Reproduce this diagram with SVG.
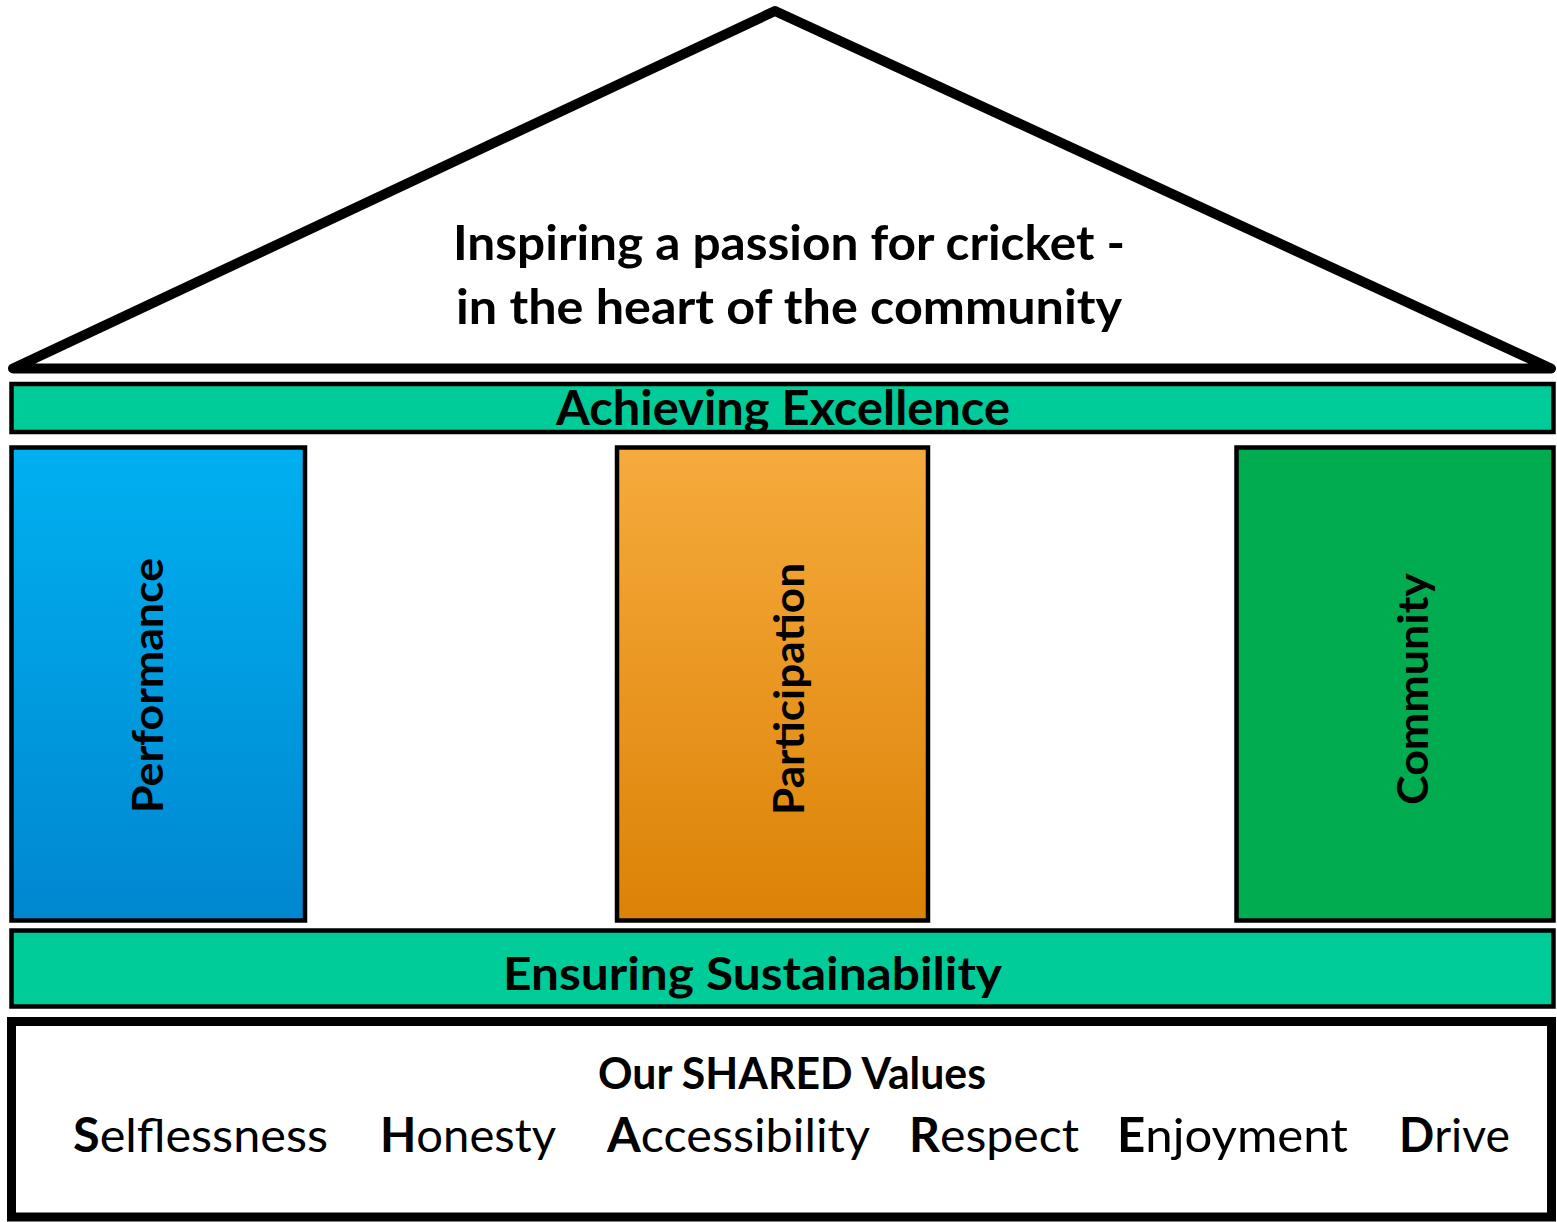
<svg xmlns="http://www.w3.org/2000/svg" width="1557" height="1222" viewBox="0 0 1557 1222">
  <style>
    .t { font-family: Lato, "Open Sans", "Liberation Sans", sans-serif; font-weight: 700; fill: #000; }
    .r { font-weight: 400; }
    .band { fill: #00CC99; stroke: #000; stroke-width: 4.5; }
    .pillar { stroke: #000; stroke-width: 4.5; }
  </style>
  <defs>
    <linearGradient id="gBlue" x1="0" y1="0" x2="0" y2="1">
      <stop offset="0" stop-color="#00B0F0"/>
      <stop offset="1" stop-color="#0087D0"/>
    </linearGradient>
    <linearGradient id="gOrange" x1="0" y1="0" x2="0" y2="1">
      <stop offset="0" stop-color="#F6AB3D"/>
      <stop offset="1" stop-color="#DC8206"/>
    </linearGradient>
  </defs>
  <rect width="1557" height="1222" fill="#fff"/>

  <!-- roof -->
  <g id="roof">
    <polygon points="13,368.5 775,11 1551,368.5" fill="#fff" stroke="#000" stroke-width="10" stroke-linejoin="round"/>
    <text class="t" x="789" y="260" font-size="48" text-anchor="middle" textLength="672" lengthAdjust="spacingAndGlyphs">Inspiring a passion for cricket -</text>
    <text class="t" x="789" y="324" font-size="48" text-anchor="middle" textLength="666" lengthAdjust="spacingAndGlyphs">in the heart of the community</text>
  </g>

  <!-- upper beam -->
  <g id="excellence">
    <rect class="band" x="11.5" y="384" width="1542" height="48"/>
    <text class="t" x="783" y="425" font-size="47" text-anchor="middle" textLength="454" lengthAdjust="spacingAndGlyphs">Achieving Excellence</text>
  </g>

  <!-- pillars -->
  <g id="performance">
    <rect class="pillar" x="11.5" y="447.5" width="293.5" height="473" fill="url(#gBlue)"/>
    <text class="t" transform="translate(163,685.5) rotate(-90)" x="0" y="0" font-size="42" text-anchor="middle" textLength="255" lengthAdjust="spacingAndGlyphs">Performance</text>
  </g>
  <g id="participation">
    <rect class="pillar" x="617" y="447.5" width="311" height="473" fill="url(#gOrange)"/>
    <text class="t" transform="translate(804,689) rotate(-90)" x="0" y="0" font-size="42" text-anchor="middle" textLength="252" lengthAdjust="spacingAndGlyphs">Participation</text>
  </g>
  <g id="community">
    <rect class="pillar" x="1236.5" y="447.5" width="317" height="473" fill="#00AC4F"/>
    <text class="t" transform="translate(1428,689) rotate(-90)" x="0" y="0" font-size="42" text-anchor="middle" textLength="232" lengthAdjust="spacingAndGlyphs">Community</text>
  </g>

  <!-- lower beam -->
  <g id="sustainability">
    <rect class="band" x="11.5" y="930.5" width="1542" height="76"/>
    <text class="t" x="752.5" y="990" font-size="45" text-anchor="middle" textLength="499" lengthAdjust="spacingAndGlyphs">Ensuring Sustainability</text>
  </g>

  <!-- foundation -->
  <g id="values">
    <rect x="11.5" y="1021.5" width="1540" height="195.5" fill="#fff" stroke="#000" stroke-width="9"/>
    <text class="t" x="792" y="1089" font-size="43" text-anchor="middle" textLength="388" lengthAdjust="spacingAndGlyphs">Our SHARED Values</text>
    <text class="t" x="73" y="1152" font-size="47" textLength="255" lengthAdjust="spacingAndGlyphs">S<tspan class="r">elflessness</tspan></text>
    <text class="t" x="380" y="1152" font-size="47" textLength="176" lengthAdjust="spacingAndGlyphs">H<tspan class="r">onesty</tspan></text>
    <text class="t" x="607" y="1152" font-size="47" textLength="263" lengthAdjust="spacingAndGlyphs">A<tspan class="r">ccessibility</tspan></text>
    <text class="t" x="909" y="1152" font-size="47" textLength="170" lengthAdjust="spacingAndGlyphs">R<tspan class="r">espect</tspan></text>
    <text class="t" x="1117" y="1152" font-size="47" textLength="231" lengthAdjust="spacingAndGlyphs">E<tspan class="r">njoyment</tspan></text>
    <text class="t" x="1399" y="1152" font-size="47" textLength="111" lengthAdjust="spacingAndGlyphs">D<tspan class="r">rive</tspan></text>
  </g>
</svg>
